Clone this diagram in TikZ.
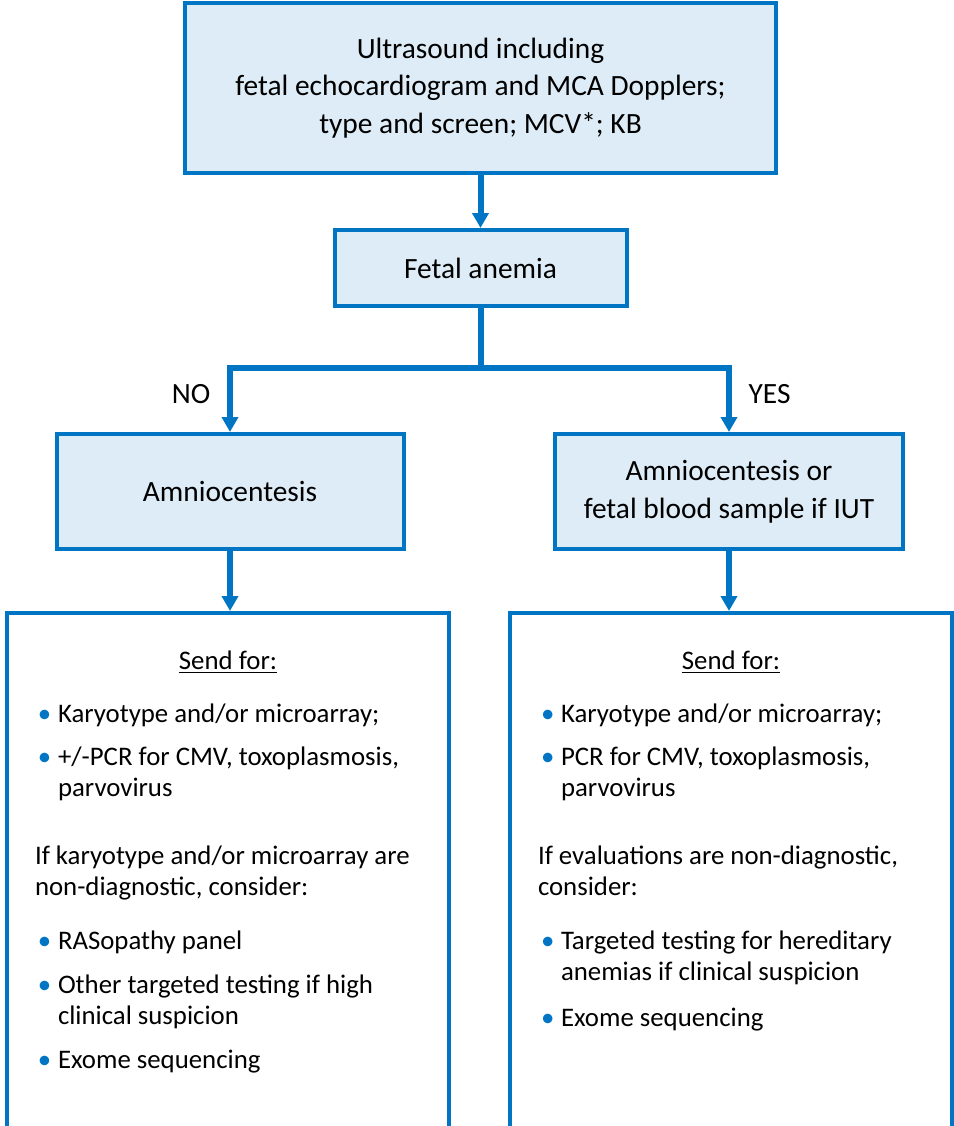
\documentclass[tikz,border=0pt]{standalone}
\usepackage{fontspec}
\setmainfont{Carlito}
\usetikzlibrary{arrows.meta}
\definecolor{flowblue}{RGB}{0,117,196}
\definecolor{flowfill}{RGB}{221,236,246}
\newcommand{\bulitem}[1]{\par\noindent\hangindent=11.5pt\hangafter=1\hbox to 11.5pt{\hspace{1.5pt}{\color{flowblue}\textbullet}\hss}#1\par}

\begin{document}
\begin{tikzpicture}[x=0.5pt, y=-0.5pt,
	box/.style={draw=flowblue, fill=flowfill, line width=2pt, align=center, inner sep=0pt, font=\fontsize{14.7pt}{18.75pt}\selectfont},
	listbox/.style={draw=flowblue, line width=2pt, inner xsep=14pt, inner ysep=0pt, anchor=north, font=\fontsize{13.4pt}{15.5pt}\selectfont},
	lab/.style={text=black, font=\fontsize{14.7pt}{16pt}\selectfont},
	flowline/.style={flowblue, line width=3pt},
	flowarrow/.style={flowline, -{Triangle[width=8pt, length=7.5pt]}}]
\useasboundingbox (0,0) rectangle (954,1126);
\clip (0,0) rectangle (954,1126);

\node[box, minimum width=295.5pt, minimum height=85pt] (us) at (480.5,88) {Ultrasound including\\fetal echocardiogram and MCA Dopplers;\\type and screen; MCV*; KB};
\node[box, minimum width=146pt, minimum height=38pt] (anemia) at (480.5,268) {Fetal anemia};
\coordinate (split) at (480.5,368);
\node[box, minimum width=173.5pt, minimum height=57.5pt] (amnio) at (230,491.5) {Amniocentesis};
\node[box, minimum width=174pt, minimum height=57.5pt] (fbs) at (729,491.5) {Amniocentesis or\\fetal blood sample if IUT};

% lists to send for
\node[listbox] (sendno) at (228,611) {\begin{minipage}[t][270pt][t]{193pt}
\vspace*{18.8pt}
{\centering\underline{Send for:}\par}
\vspace{11pt}
\bulitem{Karyotype and/or microarray;}
\vspace{6pt}
\bulitem{+/-PCR for CMV, toxoplasmosis,\\parvovirus}
\vspace{18.5pt}
\noindent If karyotype and/or microarray are\\non-diagnostic, consider:\par
\vspace{11.5pt}
\bulitem{RASopathy panel}
\vspace{6.5pt}
\bulitem{Other targeted testing if high\\clinical suspicion}
\vspace{6.5pt}
\bulitem{Exome sequencing}
\end{minipage}};
\node[listbox] (sendyes) at (731,611) {\begin{minipage}[t][270pt][t]{193pt}
\vspace*{18.8pt}
{\centering\underline{Send for:}\par}
\vspace{11pt}
\bulitem{Karyotype and/or microarray;}
\vspace{6pt}
\bulitem{PCR for CMV, toxoplasmosis,\\parvovirus}
\vspace{18.5pt}
\noindent If evaluations are non-diagnostic,\\consider:\par
\vspace{11.5pt}
\bulitem{Targeted testing for hereditary\\anemias if clinical suspicion}
\vspace{7.5pt}
\bulitem{Exome sequencing}
\end{minipage}};

\draw[flowarrow] (us) -- (anemia);
\draw[flowline] (anemia) -- (split);
\draw[flowarrow] (split) -| node[lab, pos=0.7, left=5pt] {NO} (amnio);
\draw[flowarrow] (split) -| node[lab, pos=0.7, right=5pt] {YES} (fbs);
\draw[flowarrow] (amnio) -- (amnio |- sendno.north);
\draw[flowarrow] (fbs) -- (fbs |- sendyes.north);
\end{tikzpicture}
\end{document}
